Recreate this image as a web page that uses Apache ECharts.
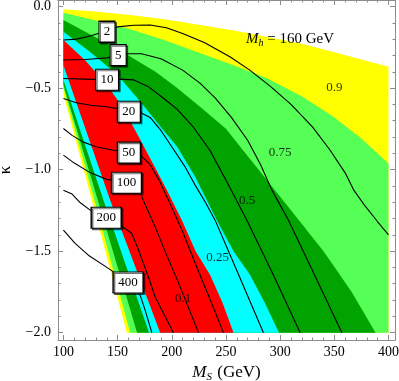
<!DOCTYPE html>
<html>
<head>
<meta charset="utf-8">
<script src="https://cdn.jsdelivr.net/npm/echarts@6/dist/echarts.min.js"></script>
<style>
html, body { margin: 0; padding: 0; background: #fff; }
#chart { width: 399px; height: 381px; }
</style>
</head>
<body>
<div id="chart"></div>
<script>
// band edges as [M_S, kappa]
// right-hand edges start on the left border and run right / down
var edgeR90 = [[100,-0.017],[130,-0.03],[161.7,-0.052],[195,-0.08],[226.4,-0.113],[260,-0.15],[290.8,-0.19],[320,-0.228],[350,-0.28],[375,-0.325],[400,-0.369]];
var edgeR75 = [[100,-0.038],[130,-0.085],[161.7,-0.14],[195,-0.21],[226.4,-0.287],[257,-0.36],[287.8,-0.44],[320,-0.55],[349.2,-0.676],[375,-0.81],[400,-0.962]];
var edgeR50 = [[100,-0.083],[130,-0.19],[160,-0.3],[185,-0.4],[205,-0.5],[228,-0.625],[250,-0.75],[265,-0.875],[280,-1.0],[295,-1.125],[310,-1.25],[325,-1.375],[340,-1.5],[353,-1.625],[366,-1.75],[377,-1.875],[388,-2]];
var edgeR25 = [[100,-0.155],[125,-0.28],[150,-0.42],[172.4,-0.594],[190,-0.74],[205,-0.86],[221.6,-1.044],[241.6,-1.31],[257,-1.5],[272.3,-1.647],[286,-1.82],[299,-2]];
var edgeR10 = [[100,-0.205],[120,-0.33],[140,-0.48],[155,-0.62],[166.2,-0.758],[180,-0.93],[195,-1.12],[209.3,-1.31],[222,-1.5],[235.4,-1.647],[247,-1.82],[257,-2]];
// left-hand edges from the left border down to kappa = -2
var edgeL90 = [[100,-0.54],[126.2,-1.187],[158.5,-2]];
var edgeL75 = [[100,-0.5],[128.6,-1.187],[161.6,-2]];
var edgeL50 = [[100,-0.48],[131.7,-1.187],[168,-2]];
var edgeL25 = [[100,-0.45],[136.9,-1.187],[179,-2]];
var edgeL10 = [[100,-0.36],[143.1,-1.187],[189.3,-2]];
var bandColors = ['#ffff00', '#55ff55', '#00a300', '#00ffff', '#ff0000'];

// labelled black contours
var line2 = [[100,-0.205],[112,-0.2],[122,-0.185],[140,-0.15],[150,-0.125],[165,-0.115],[180,-0.113],[195,-0.13],[210,-0.165],[230,-0.22],[254,-0.31],[272,-0.39],[291,-0.49],[310,-0.6],[330,-0.74],[346,-0.88],[360,-1.02],[368,-1.126],[378,-1.22],[390,-1.32],[400,-1.4]];
var line5 = [[100,-0.328],[120,-0.325],[140,-0.315],[150,-0.3],[159,-0.29],[172,-0.29],[190,-0.32],[210,-0.39],[226,-0.47],[240,-0.56],[255,-0.68],[270,-0.82],[282,-0.97],[292.4,-1.126],[307.7,-1.31],[332,-1.65],[357,-2]];
var line10 = [[100,-0.441],[120,-0.445],[140,-0.449],[151,-0.445],[165,-0.45],[178,-0.49],[190,-0.55],[205,-0.63],[220,-0.74],[235,-0.88],[248,-1.04],[256,-1.14],[269.3,-1.31],[294,-1.65],[318.5,-2]];
var line20 = [[100,-0.564],[112,-0.59],[125,-0.605],[140,-0.615],[160,-0.64],[171,-0.65],[180,-0.68],[190,-0.76],[200,-0.86],[212,-0.98],[222,-1.1],[231,-1.2],[240,-1.31],[262,-1.65],[284.6,-2]];
var line50 = [[100,-0.748],[108,-0.79],[118,-0.83],[130,-0.86],[145,-0.88],[160,-0.9],[171,-0.91],[180,-0.97],[188,-1.06],[196.9,-1.187],[210,-1.38],[222,-1.58],[235,-1.79],[247.7,-2]];
var line100 = [[100,-0.911],[110,-0.96],[125,-1.02],[140,-1.06],[158,-1.08],[169,-1.1],[173.8,-1.19],[184.6,-1.35],[195,-1.52],[206,-1.69],[215,-1.84],[224.7,-2]];
var line200 = [[100,-1.126],[108,-1.15],[115,-1.2],[125,-1.25],[140,-1.29],[152.3,-1.34],[163,-1.39],[169.2,-1.49],[178.5,-1.66],[184.6,-1.78],[201.5,-2]];
var line400 = [[100,-1.371],[110.8,-1.453],[123,-1.525],[141.5,-1.606],[160,-1.69],[170.8,-1.77],[175.4,-1.862],[181.6,-2]];
var contourLines = [line2, line5, line10, line20, line50, line100, line200, line400];
var contourNames = ['2', '5', '10', '20', '50', '100', '200', '400'];
var contourSpots = [[140.2,-0.155],[150.5,-0.298],[140.3,-0.449],[160.4,-0.645],[160.4,-0.896],[158.2,-1.08],[139.5,-1.295],[159.7,-1.693]];

var bandNames = ['0.9', '0.75', '0.5', '0.25', '0.1'];
var bandSpots = [[350,-0.497],[300,-0.896],[269.6,-1.187],[242.3,-1.54],[210.5,-1.79]];

var xMajor = [100, 150, 200, 250, 300, 350, 400];
var yMajor = [0, -0.5, -1, -1.5, -2];
var xMinor = [], yMinor = [];
for (var t = 100; t <= 400; t += 10) xMinor.push(t);
for (var k = 0; k <= 20; k++) yMinor.push(-k / 10);

var serif = 'Liberation Serif';
var frameColor = '#8c8c8c';

function band(right, left, corner) {
    var pts = right.slice();
    if (corner) pts.push([400, -2]);
    return pts.concat(left.slice().reverse());
}
var bands = [
    band(edgeR90, edgeL90, true),
    band(edgeR75, edgeL75, true),
    band(edgeR50, edgeL50, false),
    band(edgeR25, edgeL25, false),
    band(edgeR10, edgeL10, false)
];

function xAx(pos, ticks, len, labels) {
    return {
        type: 'value', min: 95, max: 406, position: pos,
        axisLine: { show: !!labels || pos === 'top', onZero: false, lineStyle: { color: frameColor, width: 1 } },
        splitLine: { show: false },
        axisTick: { inside: true, length: len, customValues: ticks, lineStyle: { color: frameColor } },
        axisLabel: labels ? { customValues: xMajor, color: '#000', fontFamily: serif, fontSize: 14, margin: 5 } : { show: false }
    };
}
function yAx(pos, ticks, len, labels) {
    return {
        type: 'value', min: -2.045, max: 0.04, position: pos,
        axisLine: { show: !!labels || pos === 'right', onZero: false, lineStyle: { color: frameColor, width: 1 } },
        splitLine: { show: false },
        axisTick: { inside: true, length: len, customValues: ticks, lineStyle: { color: frameColor } },
        axisLabel: labels ? {
            customValues: yMajor, color: '#000', fontFamily: serif, fontSize: 14, margin: 7,
            formatter: function (v) { return v === 0 ? '0.0' : '\u2212' + Math.abs(v).toFixed(1); }
        } : { show: false }
    };
}

var xs = [xAx('bottom', xMajor, 5, true), xAx('bottom', xMinor, 2.5, false), xAx('top', xMajor, 5, false), xAx('top', xMinor, 2.5, false)];
xs[0].name = '{i|M}{s|S} (GeV)';
xs[0].nameLocation = 'middle';
xs[0].nameGap = 19;
xs[0].nameTextStyle = {
    color: '#000', fontFamily: serif, fontSize: 17,
    rich: {
        i: { fontFamily: serif, fontStyle: 'italic', fontSize: 17, color: '#000' },
        s: { fontFamily: serif, fontStyle: 'italic', fontSize: 11, color: '#000', padding: [9, 1, 0, 0] }
    }
};
var ys = [yAx('left', yMajor, 5, true), yAx('left', yMinor, 2.5, false), yAx('right', yMajor, 5, false), yAx('right', yMinor, 2.5, false)];
ys[0].name = '\u03ba';
ys[0].nameLocation = 'middle';
ys[0].nameGap = 44;
ys[0].nameRotate = 90;
ys[0].nameTextStyle = { color: '#000', fontFamily: serif, fontSize: 17 };

var series = [{
    type: 'custom',
    data: bands.map(function (b, i) { return [i]; }),
    silent: true,
    z: 1,
    renderItem: function (params, api) {
        var pts = bands[params.dataIndex].map(function (p) { return api.coord(p); });
        return { type: 'polygon', shape: { points: pts }, style: { fill: bandColors[params.dataIndex], stroke: null } };
    }
}];
contourLines.forEach(function (ln) {
    series.push({
        type: 'line', data: ln, showSymbol: false, silent: true, z: 3,
        lineStyle: { color: '#000', width: 1.1 }
    });
});
series.push({
    type: 'scatter', z: 5, silent: true,
    symbol: 'rect',
    data: contourSpots.map(function (p, i) {
        return { value: p, symbolSize: [9 + 7 * contourNames[i].length, 21], name: contourNames[i] };
    }),
    itemStyle: {
        color: '#fff', borderColor: '#000', borderWidth: 1.2, opacity: 1,
        shadowColor: 'rgba(0,0,0,0.55)', shadowOffsetX: 1.5, shadowOffsetY: 1.5, shadowBlur: 0
    },
    label: {
        show: true, position: 'inside', formatter: '{b}',
        color: '#000', fontFamily: serif, fontSize: 13
    }
});
series.push({
    type: 'scatter', z: 6, silent: true, symbolSize: 0,
    data: bandSpots.map(function (p, i) { return { value: p, name: bandNames[i] }; }),
    label: { show: true, position: 'inside', formatter: '{b}', color: '#000', fontFamily: serif, fontSize: 13 }
});

var chart = echarts.init(document.getElementById('chart'), null, { renderer: 'canvas' });
chart.setOption({
    animation: false,
    backgroundColor: '#fff',
    grid: { left: 58, right: 4, top: 0, bottom: 41, containLabel: false, outerBoundsMode: 'none' },
    xAxis: xs,
    yAxis: ys,
    series: series,
    graphic: [{
        type: 'text', left: 246, top: 32, z: 10,
        style: {
            text: '{i|M}{s|h}{n| = 160 GeV}',
            rich: {
                i: { fontFamily: serif, fontStyle: 'italic', fontSize: 15, fill: '#000' },
                s: { fontFamily: serif, fontStyle: 'italic', fontSize: 10, fill: '#000', padding: [7, 0, 0, 0] },
                n: { fontFamily: serif, fontSize: 15, fill: '#000' }
            }
        }
    }]
});
</script>
</body>
</html>
